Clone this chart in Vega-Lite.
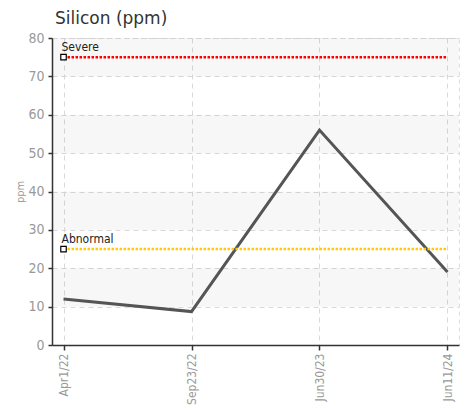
{
  "$schema": "https://vega.github.io/schema/vega-lite/v6.json",
  "width": 407,
  "height": 307,
  "autosize": {"type": "none"},
  "padding": {"left": 52, "top": 38, "right": 8, "bottom": 65},
  "title": {
    "text": "Silicon (ppm)",
    "anchor": "start",
    "frame": "group",
    "dx": 3,
    "font": "DejaVu Sans",
    "fontSize": 17,
    "fontWeight": "normal",
    "color": "#333333",
    "baseline": "alphabetic",
    "offset": -10
  },
  "config": {
    "view": {"stroke": "#dddddd", "strokeDash": [4, 4]},
    "axis": {
      "labelFont": "DejaVu Sans Condensed",
      "titleFont": "DejaVu Sans Condensed",
      "labelColor": "#999999",
      "titleColor": "#999999",
      "domainColor": "#333333",
      "domainWidth": 1.5,
      "tickColor": "#333333",
      "tickWidth": 1.5,
      "gridColor": "#d9d9d9",
      "gridDash": [5, 4],
      "gridWidth": 1,
      "labelOverlap": false
    }
  },
  "datasets": {
    "bands": [
      {"lo": 10, "hi": 20},
      {"lo": 30, "hi": 40},
      {"lo": 50, "hi": 60},
      {"lo": 70, "hi": 80}
    ],
    "series": [
      {"date": "Apr1/22", "ppm": 12},
      {"date": "Sep23/22", "ppm": 8.7},
      {"date": "Jun30/23", "ppm": 56},
      {"date": "Jun11/24", "ppm": 19}
    ],
    "limits": [
      {"level": "Severe", "value": 75, "start": "Apr1/22", "end": "Jun11/24"},
      {"level": "Abnormal", "value": 25, "start": "Apr1/22", "end": "Jun11/24"}
    ]
  },
  "layer": [
    {
      "data": {"name": "bands"},
      "mark": {"type": "rect", "color": "#000000", "opacity": 0.03},
      "encoding": {
        "y": {
          "field": "lo",
          "type": "quantitative",
          "scale": {"domain": [0, 80], "nice": false},
          "axis": {
            "title": "ppm",
            "titleFontSize": 11,
            "titleFontWeight": "normal",
            "titlePadding": 2,
            "values": [0, 10, 20, 30, 40, 50, 60, 70, 80],
            "tickCount": 9,
            "labelFontSize": 14,
            "labelPadding": 4,
            "tickSize": 4,
            "grid": true
          }
        },
        "y2": {"field": "hi"}
      }
    },
    {
      "data": {"name": "series"},
      "mark": {"type": "line", "color": "#555555", "strokeWidth": 3},
      "encoding": {
        "x": {
          "field": "date",
          "type": "ordinal",
          "sort": null,
          "scale": {"type": "point", "padding": 0.09},
          "axis": {
            "title": null,
            "labelAngle": -90,
            "labelAlign": "right",
            "labelBaseline": "middle",
            "labelFontSize": 12,
            "labelPadding": 3,
            "tickSize": 5,
            "grid": true
          }
        },
        "y": {
          "field": "ppm",
          "type": "quantitative",
          "scale": {"domain": [0, 80], "nice": false},
          "axis": {
            "title": "ppm",
            "titleFontSize": 11,
            "titleFontWeight": "normal",
            "titlePadding": 2,
            "values": [0, 10, 20, 30, 40, 50, 60, 70, 80],
            "tickCount": 9,
            "labelFontSize": 14,
            "labelPadding": 4,
            "tickSize": 4,
            "grid": true
          }
        }
      }
    },
    {
      "data": {"name": "limits"},
      "mark": {"type": "rule", "strokeWidth": 2.5, "strokeDash": [2.5, 1.5]},
      "encoding": {
        "x": {"field": "start", "type": "ordinal", "sort": null},
        "x2": {"field": "end"},
        "y": {"field": "value", "type": "quantitative"},
        "color": {
          "field": "level",
          "type": "nominal",
          "scale": {"domain": ["Severe", "Abnormal"], "range": ["#ff0000", "#ffcc00"]},
          "legend": null
        }
      }
    },
    {
      "data": {"name": "limits"},
      "mark": {"type": "square", "size": 30, "fill": "#ffffff", "stroke": "#000000", "strokeWidth": 1.2, "opacity": 1},
      "encoding": {
        "x": {"field": "start", "type": "ordinal", "sort": null},
        "y": {"field": "value", "type": "quantitative"}
      }
    },
    {
      "data": {"name": "limits"},
      "mark": {"type": "text", "align": "left", "baseline": "alphabetic", "dx": -2, "dy": -6, "font": "DejaVu Sans Condensed", "fontSize": 12, "color": "#222222"},
      "encoding": {
        "x": {"field": "start", "type": "ordinal", "sort": null},
        "y": {"field": "value", "type": "quantitative"},
        "text": {"field": "level"}
      }
    }
  ]
}
